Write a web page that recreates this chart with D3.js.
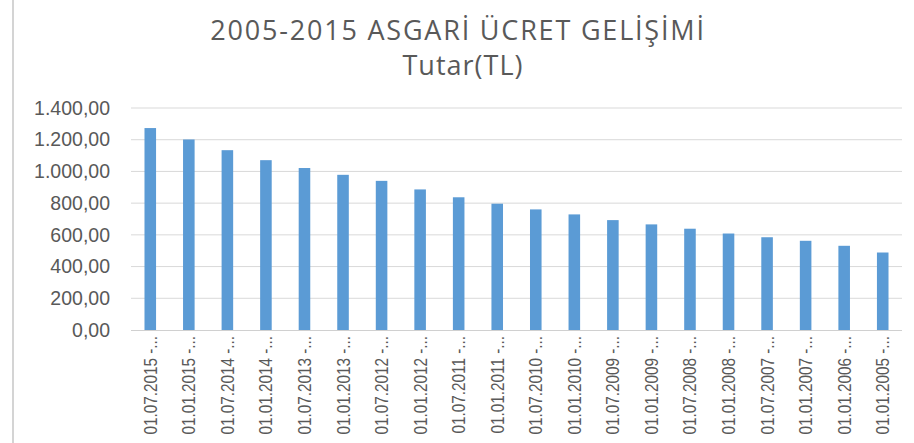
<!DOCTYPE html>
<html>
<head>
<meta charset="utf-8">
<script src="https://cdn.jsdelivr.net/npm/d3@7"></script>
<style>
  html, body { margin: 0; padding: 0; background: #ffffff; }
  svg { display: block; }
</style>
</head>
<body>
<svg id="chart" width="914" height="443"></svg>
<script>
// ---- data ----
const titleLines = ["2005-2015 ASGARİ ÜCRET GELİŞİMİ", "Tutar(TL)"];
const categories = [
  "01.07.2015 -...", "01.01.2015 -...", "01.07.2014 -...", "01.01.2014 -...",
  "01.07.2013 -...", "01.01.2013 -...", "01.07.2012 -...", "01.01.2012 -...",
  "01.07.2011 -...", "01.01.2011 -...", "01.07.2010 -...", "01.01.2010 -...",
  "01.07.2009 -...", "01.01.2009 -...", "01.07.2008 -...", "01.01.2008 -...",
  "01.07.2007 -...", "01.01.2007 -...", "01.01.2006 -...", "01.01.2005 -..."
];
const values = [
  1273.5, 1201.5, 1134.0, 1071.0, 1021.5, 978.6, 940.5, 886.5, 837.0, 796.5,
  760.5, 729.0, 693.0, 666.0, 638.7, 608.4, 585.0, 562.5, 531.0, 488.7
];
const yTicks = [0, 200, 400, 600, 800, 1000, 1200, 1400];
const yDomain = [0, 1400];

// ---- layout ----
const W = 914, H = 443;
const plot = { left: 131, right: 902, top: 108, bottom: 330 };
const svg = d3.select("#chart");
const textColor = "#595959";

// chart frame (left edge visible)
svg.append("line")
  .attr("x1", 13).attr("x2", 13).attr("y1", 0).attr("y2", H)
  .attr("stroke", "#d4d4d4").attr("stroke-width", 2);

const x = d3.scaleBand().domain(categories).range([plot.left, plot.right])
  .paddingInner(0.7).paddingOuter(0.35);
const y = d3.scaleLinear().domain(yDomain).range([plot.bottom, plot.top]);

const fmt = v => {
  const s = v.toFixed(2).replace(".", ",");
  const [int, dec] = s.split(",");
  return int.replace(/\B(?=(\d{3})+(?!\d))/g, ".") + "," + dec;
};

// gridlines
svg.append("g")
  .selectAll("line").data(yTicks.filter(t => t !== 0)).join("line")
  .attr("x1", plot.left).attr("x2", plot.right)
  .attr("y1", d => y(d)).attr("y2", d => y(d))
  .attr("stroke", "#d9d9d9").attr("stroke-width", 1);

// y axis
const yAxis = d3.axisLeft(y).tickValues(yTicks).tickFormat(fmt).tickSize(0).tickPadding(21);
const gy = svg.append("g").attr("transform", `translate(${plot.left},0)`).call(yAxis);
gy.select(".domain").remove();
gy.selectAll("text")
  .attr("fill", textColor)
  .style("font-family", "'Liberation Sans', Arial, sans-serif")
  .style("font-size", "19.5px");

// bars
svg.append("g")
  .selectAll("rect").data(values).join("rect")
  .attr("x", (d, i) => x(categories[i]))
  .attr("width", x.bandwidth())
  .attr("y", d => y(d))
  .attr("height", d => y(0) - y(d))
  .attr("fill", "#5b9bd5");

// x axis
const xAxis = d3.axisBottom(x).tickSize(0).tickPadding(0);
const gx = svg.append("g").attr("transform", `translate(0,${plot.bottom})`).call(xAxis);
gx.select(".domain").attr("stroke", "#d0d0d0").attr("stroke-width", 1)
  .attr("d", `M${plot.left},0.5H${plot.right}`);
gx.selectAll("text")
  .attr("fill", textColor)
  .style("font-family", "'Liberation Sans', Arial, sans-serif")
  .style("font-size", "18px")
  .attr("text-anchor", "end")
  .attr("transform", "rotate(-90) scale(0.85,1)")
  .attr("x", -6 / 0.85)
  .attr("y", 0)
  .attr("dy", "0.36em");

// title
const title = svg.append("g").attr("fill", textColor)
  .style("font-family", "'Open Sans', 'Liberation Sans', sans-serif");
title.append("text").attr("x", 458).attr("y", 40)
  .attr("text-anchor", "middle").style("font-size", "27px")
  .style("letter-spacing", "1.8px").text(titleLines[0]);
title.append("text").attr("x", 463).attr("y", 75)
  .attr("text-anchor", "middle").style("font-size", "27px")
  .style("letter-spacing", "1px").text(titleLines[1]);
</script>
</body>
</html>
